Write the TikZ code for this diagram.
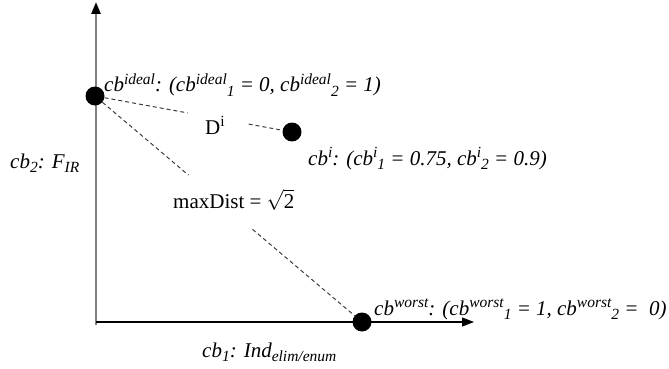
\documentclass[tikz,border=0pt]{standalone}
\usepackage{fontspec}
\setmainfont{Liberation Serif}
\usetikzlibrary{positioning, arrows.meta, calc}
\definecolor{axisgray}{RGB}{128,128,128}
\definecolor{dashgray}{RGB}{60,60,60}
\newcommand\supx[1]{\raisebox{0.36em}{\fontsize{15.5}{17}\selectfont #1}}
\newcommand\subx[1]{\raisebox{-0.22em}{\fontsize{15.5}{17}\selectfont #1}}

\begin{document}
\begin{tikzpicture}[
  x=1pt, y=-1pt,
  font=\fontsize{21}{24}\selectfont,
  dot/.style={circle, fill=black, inner sep=0pt, minimum size=19pt},
  ptlabel/.style={anchor=base west, inner sep=0pt, font=\fontsize{21}{24}\selectfont\itshape},
  distline/.style={dashgray, line width=1pt, dash pattern=on 4pt off 3pt},
  axis/.style={line width=1.2pt, -{Triangle[length=12pt, width=9pt, black]}}
]
  \useasboundingbox (0,0) rectangle (669,369);
  % axes
  \coordinate (origin) at (96,322);
  \coordinate (ybot) at (96,325);
  \coordinate (ytop) at (96,2);
  \coordinate (xend) at (474,322);
  \draw[axis, axisgray, line width=2.5pt] (ybot) -- (ytop);
  \draw[axis] (origin) -- (xend);
  \node[ptlabel] (xlab) at (202,357) {cb\subx{1}: Ind\subx{elim/enum}};
  \node[ptlabel] (ylab) at (10,168) {cb\subx{2}: F\subx{IR}};
  % points
  \node[dot] (ideal) at (95,96) {};
  \node[dot] (cbi) at (292,132) {};
  \node[dot] (worst) at (362,322) {};
  \node[ptlabel] (ideallab) at (104,92)
    {cb\supx{ideal}: (cb\supx{ideal}\subx{1} = 0, cb\supx{ideal}\subx{2} = 1)};
  \node[ptlabel] (cbilab) at (308,165)
    {cb\supx{i}: (cb\supx{i}\subx{1} = 0.75, cb\supx{i}\subx{2} = 0.9)};
  \node[ptlabel] (worstlab) at (374,315)
    {cb\supx{worst}: (cb\supx{worst}\subx{1} = 1, cb\supx{worst}\subx{2} =\ \ 0)};
  % distances
  \node[anchor=base west, inner sep=0pt] (dlab) at (205,134) {D\supx{i}};
  \node[anchor=base west, inner sep=0pt] (maxlab) at (173,208) {maxDist = $\sqrt{\mbox{2}}$};
  \coordinate (d1) at ($(ideal)!0.47!(cbi)$);
  \coordinate (d2) at ($(ideal)!0.78!(cbi)$);
  \coordinate (m1) at ($(ideal)!0.35!(worst)$);
  \coordinate (m2) at ($(ideal)!0.59!(worst)$);
  \draw[distline] (ideal) -- (d1);
  \draw[distline] (d2) -- (cbi);
  \draw[distline] (ideal) -- (m1);
  \draw[distline] (m2) -- (worst);
\end{tikzpicture}
\end{document}
